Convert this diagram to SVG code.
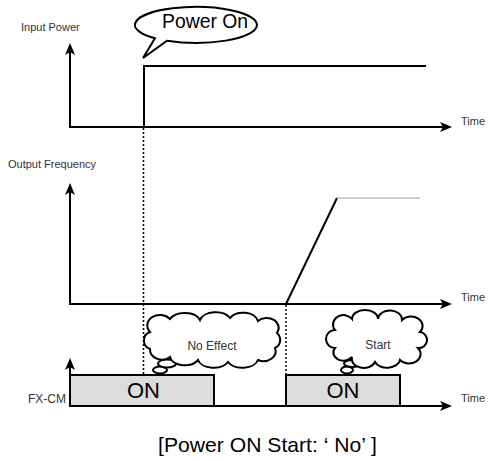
<svg xmlns="http://www.w3.org/2000/svg" width="488" height="461" viewBox="0 0 488 461">
<style>
  .ax{stroke:#000;stroke-width:2;fill:none}
  .sig{stroke:#000;stroke-width:2;fill:none}
  .dot{stroke:#000;stroke-width:1.5;stroke-dasharray:2,2;fill:none}
  .lbl{font-family:"Liberation Sans",Arial,sans-serif;font-size:11px;fill:#333}
  .box{fill:#dcdcdc;stroke:#000;stroke-width:2}
  .on{font-family:"Liberation Sans",Arial,sans-serif;font-size:22px;fill:#000;text-anchor:middle}
  .cloud{fill:#fff;stroke:#000;stroke-width:2}
  .ctext{font-family:"Liberation Sans",Arial,sans-serif;font-size:12px;fill:#333;text-anchor:middle}
</style>
<defs>
  <marker id="arr" viewBox="-12 -6 12 12" refX="-8" refY="0" markerWidth="12" markerHeight="12" markerUnits="userSpaceOnUse" orient="auto">
    <path d="M0,0 L-12,-5 L-9,0 L-12,5 Z" fill="#000"/>
  </marker>
</defs>

<g id="connectors">
  <!-- Input Power axes -->
  <path class="ax" d="M70,127 V51" marker-end="url(#arr)"/>
  <path class="ax" d="M69,127 H444" marker-end="url(#arr)"/>
  <!-- Output frequency axes -->
  <path class="ax" d="M70,304 V191" marker-end="url(#arr)"/>
  <path class="ax" d="M69,304 H444" marker-end="url(#arr)"/>
  <!-- FX-CM axes -->
  <path class="ax" d="M70,375 V366" stroke-width="1.5" marker-end="url(#arr)"/>
  <path class="ax" d="M214,406 H286"/>
  <path class="ax" d="M400,406 H444" marker-end="url(#arr)"/>
  <!-- dotted guides -->
  <path class="dot" d="M143.5,128 V375"/>
  <path class="dot" d="M286,305 V375"/>
</g>

<g id="input-power">
  <text class="lbl" x="21" y="31">Input Power</text>
  <path class="sig" d="M144,127 V66 H426"/>
  <text class="lbl" x="461" y="125">Time</text>
</g>

<g id="callout-power-on">
  <path class="cloud" d="M155,38.3 L143,58 L167,40.8 A61,18 0 1 0 155,38.3 Z"/>
  <text x="205" y="28" font-family="Liberation Sans, Arial, sans-serif" font-size="21" text-anchor="middle" textLength="86" lengthAdjust="spacingAndGlyphs">Power On</text>
</g>

<g id="output-frequency">
  <text class="lbl" x="8" y="168">Output Frequency</text>
  <path class="sig" d="M286,304 L337,198"/>
  <path d="M337,198 H420" stroke="#c0c0c0" stroke-width="1.5" fill="none"/>
  <text class="lbl" x="461" y="301">Time</text>
</g>

<g id="fx-cm">
  <text class="lbl" x="28" y="403" font-size="12" style="font-size:12px">FX-CM</text>
  <text class="lbl" x="461" y="402">Time</text>
</g>

<g id="on-box-1">
  <rect class="box" x="70" y="375" width="144" height="31"/>
  <text class="on" x="143.5" y="398">ON</text>
</g>

<g id="on-box-2">
  <rect class="box" x="286" y="375" width="114" height="31"/>
  <text class="on" x="343" y="398">ON</text>
</g>

<g id="cloud-no-effect">
  <ellipse class="cloud" cx="160" cy="370" rx="7" ry="3.5" stroke-width="1.5"/>
  <ellipse class="cloud" cx="167" cy="363.5" rx="9" ry="4" stroke-width="1.5"/>
  <path class="cloud" d="M150,332 A12,10 0 0 1 170,319 A16,10 0 0 1 200,320 A16,10 0 0 1 230,318 A15,10 0 0 1 258,321 A12,10 0 0 1 277,333 A9,9 0 0 1 275,348 A12,10 0 0 1 258,360 A16,10 0 0 1 228,362 A16,10 0 0 1 198,360 A15,10 0 0 1 170,357 A12,10 0 0 1 150,349 A9,9 0 0 1 150,332 Z"/>
  <text class="ctext" x="212" y="350">No Effect</text>
</g>

<g id="cloud-start">
  <ellipse class="cloud" cx="347" cy="370" rx="6" ry="3.5" stroke-width="1.5"/>
  <ellipse class="cloud" cx="352" cy="363.5" rx="8" ry="3.5" stroke-width="1.5"/>
  <path class="cloud" d="M335,330 A10,9 0 0 1 352,319 A13,9 0 0 1 378,319 A12,9 0 0 1 402,320 A11,9 0 0 1 420,332 A8,8 0 0 1 418,348 A11,9 0 0 1 400,360 A13,9 0 0 1 375,362 A12,9 0 0 1 352,357 A10,8 0 0 1 335,348 A8,8 0 0 1 335,330 Z"/>
  <text class="ctext" x="378" y="349">Start</text>
</g>

<g id="caption">
  <text x="158" y="452" font-family="Liberation Sans, Arial, sans-serif" font-size="21" fill="#000" textLength="219" lengthAdjust="spacingAndGlyphs">[Power ON Start: ‘ No’ ]</text>
</g>
</svg>
